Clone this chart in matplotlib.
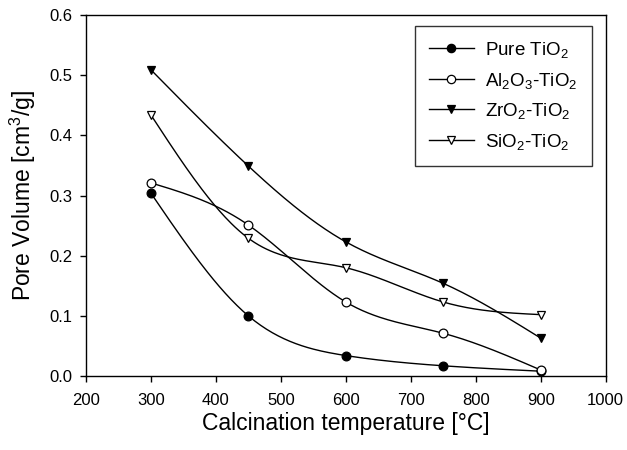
import numpy as np
import matplotlib
matplotlib.use("Agg")
import matplotlib.pyplot as plt

plt.rcParams['font.family'] = ['Liberation Sans', 'DejaVu Sans']
plt.rcParams['mathtext.default'] = 'regular'

temps = [300, 450, 600, 750, 900]
pure_tio2 = [0.304, 0.100, 0.034, 0.017, 0.008]
al2o3_tio2 = [0.321, 0.251, 0.123, 0.071, 0.010]
zro2_tio2 = [0.509, 0.349, 0.223, 0.154, 0.063]
sio2_tio2 = [0.434, 0.229, 0.180, 0.123, 0.102]

series_labels = ['Pure TiO$_2$', 'Al$_2$O$_3$-TiO$_2$', 'ZrO$_2$-TiO$_2$', 'SiO$_2$-TiO$_2$']
x_ticks = [200, 300, 400, 500, 600, 700, 800, 900, 1000]
y_ticks = [0.0, 0.1, 0.2, 0.3, 0.4, 0.5, 0.6]


def natural_spline(x, y, n=200):
    x = np.asarray(x, float)
    y = np.asarray(y, float)
    k = len(x)
    h = np.diff(x)
    A = np.zeros((k, k))
    b = np.zeros(k)
    A[0, 0] = 1
    A[-1, -1] = 1
    for i in range(1, k - 1):
        A[i, i - 1] = h[i - 1]
        A[i, i] = 2 * (h[i - 1] + h[i])
        A[i, i + 1] = h[i]
        b[i] = 3 * ((y[i + 1] - y[i]) / h[i] - (y[i] - y[i - 1]) / h[i - 1])
    c = np.linalg.solve(A, b)
    xs = np.linspace(x[0], x[-1], n)
    idx = np.clip(np.searchsorted(x, xs) - 1, 0, k - 2)
    dx = xs - x[idx]
    bb = (y[idx + 1] - y[idx]) / h[idx] - h[idx] * (2 * c[idx] + c[idx + 1]) / 3
    d = (c[idx + 1] - c[idx]) / (3 * h[idx])
    ys = y[idx] + bb * dx + c[idx] * dx ** 2 + d * dx ** 3
    return xs, ys


fig = plt.figure(figsize=(6.27, 4.5), dpi=100)
ax = fig.add_axes([0.137, 0.1644, 0.829, 0.8023])

styles = [
    dict(marker='o', mfc='black', mec='black'),
    dict(marker='o', mfc='white', mec='black'),
    dict(marker='v', mfc='black', mec='black'),
    dict(marker='v', mfc='white', mec='black'),
]
data = [pure_tio2, al2o3_tio2, zro2_tio2, sio2_tio2]

for vals, lab, st in zip(data, series_labels, styles):
    xs, ys = natural_spline(temps, vals)
    ax.plot(xs, ys, color='black', lw=1.0, zorder=2)
    ax.plot(temps, vals, linestyle='none', ms=6.3, mew=0.9, zorder=3, **st)
    ax.plot([], [], color='black', lw=1.0, ms=6.0, mew=0.9, label=lab, **st)

ax.set_xlim(200, 1000)
ax.set_ylim(0, 0.6)
ax.set_xticks(x_ticks)
ax.set_yticks(y_ticks)
ax.set_yticklabels([f'{v:.1f}' for v in y_ticks])
ax.tick_params(direction='out', length=4, width=1, labelsize=12)
ax.tick_params(axis='x', pad=8)
ax.tick_params(axis='y', pad=6)
for s in ax.spines.values():
    s.set_linewidth(1.0)

ax.set_xlabel('Calcination temperature [°C]', fontsize=16.5, labelpad=3)
ax.set_ylabel('Pore Volume [cm$^3$/g]', fontsize=16.5, labelpad=8)

leg = ax.legend(loc='upper right', bbox_to_anchor=(0.973, 0.9695), borderaxespad=0,
                fontsize=13.5, frameon=True, fancybox=False, edgecolor='black',
                handlelength=2.4, borderpad=0.75, labelspacing=0.56, handletextpad=0.6)
leg.get_frame().set_linewidth(1.0)

fig.savefig('out.png', dpi=100)
